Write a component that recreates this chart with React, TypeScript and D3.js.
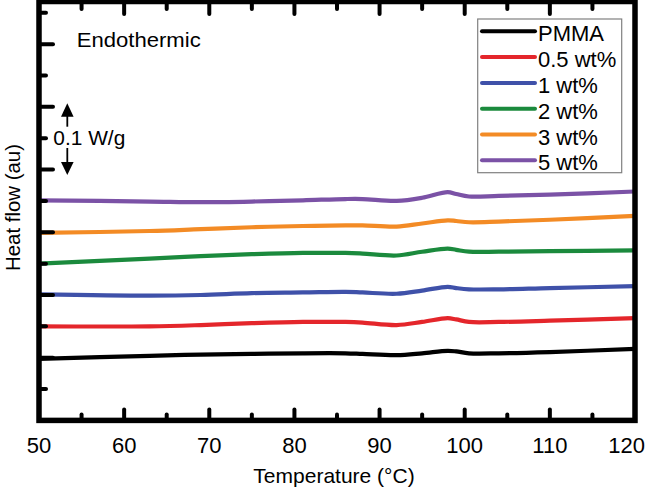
import React from "react";
import * as d3 from "d3";

const temps = [50, 63, 69, 75, 81, 86, 88, 92, 95, 98, 99, 100.5, 104, 110, 120];
const pmma = [0.098, 0.103, 0.105, 0.106, 0.107, 0.107, 0.106, 0.104, 0.107, 0.111, 0.110, 0.107, 0.107, 0.109, 0.114];
const wt05 = [0.150, 0.150, 0.152, 0.155, 0.157, 0.157, 0.156, 0.152, 0.157, 0.163, 0.161, 0.157, 0.157, 0.159, 0.163];
const wt1 = [0.201, 0.199, 0.200, 0.203, 0.204, 0.205, 0.204, 0.202, 0.207, 0.213, 0.211, 0.209, 0.209, 0.211, 0.214];
const wt2 = [0.250, 0.258, 0.262, 0.265, 0.267, 0.267, 0.266, 0.263, 0.269, 0.274, 0.272, 0.269, 0.269, 0.270, 0.271];
const wt3 = [0.299, 0.302, 0.305, 0.308, 0.310, 0.311, 0.311, 0.309, 0.314, 0.319, 0.318, 0.316, 0.317, 0.320, 0.326];
const wt5 = [0.351, 0.349, 0.348, 0.349, 0.351, 0.353, 0.353, 0.350, 0.355, 0.364, 0.361, 0.357, 0.358, 0.360, 0.365];

const seriesNames = ["PMMA", "0.5 wt%", "1 wt%", "2 wt%", "3 wt%", "5 wt%"];
const seriesValues = [pmma, wt05, wt1, wt2, wt3, wt5];
const seriesColors = ["#000000", "#e4262b", "#3f51a9", "#1b8a3d", "#f38b25", "#7b52a6"];

const xMajorTicks = [50, 60, 70, 80, 90, 100, 110, 120];
const xMinorTicks = [55, 65, 75, 85, 95, 105, 115];
const yTicks = [0.05, 0.1, 0.15, 0.2, 0.25, 0.3, 0.35, 0.4, 0.45, 0.5, 0.55, 0.6, 0.65];

const FONT = "'Liberation Sans', Arial, Helvetica, sans-serif";

export default function App() {
  const W = 647, H = 490;
  const x = d3.scaleLinear().domain([50, 120]).range([39, 635]);
  const y = d3.scaleLinear().domain([0, 0.668]).range([420.4, 1.5]);
  const line = d3
    .line<[number, number]>()
    .x((d) => x(d[0]))
    .y((d) => y(d[1]))
    .curve(d3.curveCatmullRom.alpha(0.5));

  const x0 = x.range()[0], x1 = x.range()[1];
  const yb = y.range()[0], yt = y.range()[1];

  const legendX = 477.7, legendY = 19, legendW = 144, legendH = 153.7;
  const rowY0 = 31.3, rowStep = 25.8;

  return (
    <svg width={W} height={H} style={{ position: "absolute", left: 0, top: 0, background: "#fff" }} fontFamily={FONT}>
      <rect x={0} y={0} width={W} height={H} fill="#fff" />
      {seriesValues.map((vals, i) => (
        <path
          key={seriesNames[i]}
          d={line(temps.map((t, j) => [t, vals[j]]) as [number, number][]) || ""}
          fill="none"
          stroke={seriesColors[i]}
          strokeWidth={4.2}
          strokeLinecap="round"
          strokeLinejoin="round"
        />
      ))}
      <g stroke="#000" strokeWidth={4} strokeLinecap="round">
        {xMajorTicks.map((t) => (
          <g key={"xM" + t}>
            <line x1={x(t)} x2={x(t)} y1={yb} y2={yb - 11} />
            <line x1={x(t)} x2={x(t)} y1={yt} y2={yt + 12.5} />
          </g>
        ))}
        {xMinorTicks.map((t) => (
          <g key={"xm" + t}>
            <line x1={x(t)} x2={x(t)} y1={yb} y2={yb - 6} />
            <line x1={x(t)} x2={x(t)} y1={yt} y2={yt + 7.5} />
          </g>
        ))}
        {yTicks.map((v, i) => (
          <line key={"y" + i} x1={x0} x2={x0 + (i % 2 === 1 ? 14 : 7)} y1={y(v)} y2={y(v)} />
        ))}
      </g>
      <rect x={x0} y={yt} width={x1 - x0} height={yb - yt} fill="none" stroke="#000" strokeWidth={5.5} />
      {xMajorTicks.map((t, i) => (
        <text
          key={"xl" + t}
          x={i === xMajorTicks.length - 1 ? x(t) + 10 : x(t)}
          y={453}
          fontSize={22}
          textAnchor={i === xMajorTicks.length - 1 ? "end" : "middle"}
          fill="#000"
        >
          {t}
        </text>
      ))}
      <text x={334} y={483} fontSize={21} textAnchor="middle" fill="#000">
        Temperature (°C)
      </text>
      <text
        transform={`translate(20,207.5) rotate(-90)`}
        fontSize={19.5}
        textAnchor="middle"
        textLength={127}
        lengthAdjust="spacingAndGlyphs"
        fill="#000"
      >
        Heat flow (au)
      </text>
      <text x={76.7} y={46.7} fontSize={21} textLength={124} lengthAdjust="spacingAndGlyphs" fill="#000">
        Endothermic
      </text>
      <g stroke="#000" strokeWidth={1.8}>
        <line x1={67.3} x2={67.3} y1={115} y2={126.7} />
        <line x1={67.3} x2={67.3} y1={148} y2={164} />
      </g>
      <path d="M67.3,103.3 L61,116.7 L73.6,116.7 Z" fill="#000" />
      <path d="M67.3,175 L61,162 L73.6,162 Z" fill="#000" />
      <text x={53.3} y={145} fontSize={19.5} textLength={72} lengthAdjust="spacingAndGlyphs" fill="#000">
        0.1 W/g
      </text>
      <rect x={legendX} y={legendY} width={legendW} height={legendH} fill="#fff" stroke="#808080" strokeWidth={1.2} />
      {seriesNames.map((name, i) => {
        const ry = rowY0 + i * rowStep;
        return (
          <g key={"lg" + name}>
            <line x1={482} x2={535} y1={ry} y2={ry} stroke={seriesColors[i]} strokeWidth={4} strokeLinecap="round" />
            <text x={538} y={ry + 10} fontSize={22} fill="#000">
              {name}
            </text>
          </g>
        );
      })}
    </svg>
  );
}
